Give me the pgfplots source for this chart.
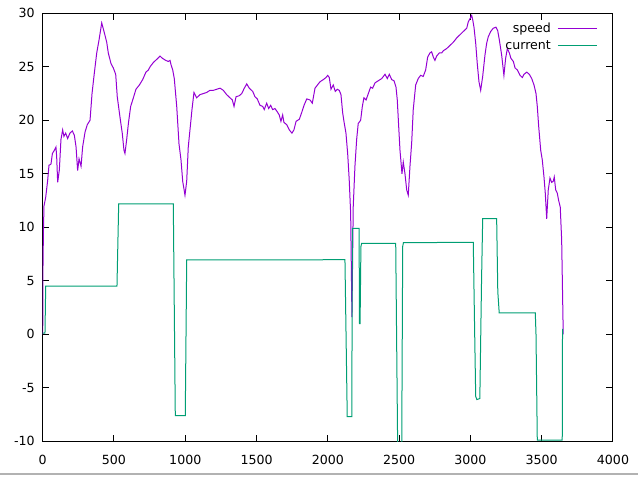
\documentclass[border=0pt]{standalone}
\usepackage{pgfplots}
\pgfplotsset{compat=1.18}
\usepackage{fontspec}
\setmainfont{DejaVu Sans}
\definecolor{gpviolet}{HTML}{9400D3}
\definecolor{gpgreen}{HTML}{009E73}
\begin{document}
\begin{tikzpicture}
\useasboundingbox (0,0) rectangle (638pt,477pt);
\draw[black!30, line width=2pt] (0,2.7pt) -- (638pt,2.7pt);
\begin{axis}[
  at={(42.7pt,35.7pt)}, anchor=south west,
  scale only axis, width=570.3pt, height=428pt,
  xmin=0, xmax=4000, ymin=-10, ymax=30,
  xtick={0,500,...,4000}, ytick={-10,-5,...,30},
  tick align=inside, major tick length=6.5pt,
  axis line style={line width=1pt},
  major tick style={line width=1pt, black},
  /pgf/number format/assume math mode=true,
  /pgf/number format/1000 sep={},
  tick label style={font=\fontsize{12.6}{14}\selectfont},
  xticklabel style={yshift=-10.2pt},
  yticklabel style={xshift=-4.5pt},
  legend style={draw=none, fill=none, at={(axis description cs:0.973,0.984)}, anchor=north east,
    inner sep=0pt, row sep=0.5pt, column sep=4.5pt,
    font=\fontsize{12.6}{14}\selectfont,
    nodes={inner sep=2pt, text height=10pt, text depth=2.2pt}},
  legend plot pos=right,
  legend cell align=right,
  legend image code/.code={\draw[#1] (0pt,0pt) -- (39pt,0pt);},
]
\addplot[gpviolet, line width=1pt] coordinates {
(0,0) (1,2.3) (2,6.3) (5,9.5) (9,12.0) (21,12.8) (35,14.4) (44,15.8) (58,15.9) (68,16.9) (82,17.2) (93,17.5) (98,16.6) (105,14.2) (117,15.4) (128,18.2) (140,19.1) (149,18.5) (161,18.8) (175,18.3) (191,18.8) (208,19.0) (222,18.6) (234,17.5) (245,15.3) (255,16.4) (269,15.7) (280,17.5) (297,18.9) (313,19.6) (332,20.0) (346,22.5) (362,24.4) (379,26.3) (395,27.5) (414,29.1) (430,28.3) (449,27.3) (460,26.3) (479,25.3) (495,24.9) (512,24.3) (523,22.2) (542,20.3) (558,18.8) (570,17.2) (577,16.9) (589,18.2) (601,19.7) (617,21.3) (636,22.1) (654,22.9) (678,23.3) (701,23.8) (724,24.5) (741,24.7) (753,25.0) (776,25.4) (800,25.7) (823,26.0) (839,25.8) (863,25.6) (881,25.5) (893,25.6) (900,25.2) (912,24.7) (923,23.9) (940,21.3) (956,17.8) (970,16.3) (982,14.3) (998,13.0) (1010,14.3) (1021,17.5) (1033,19.1) (1047,21.0) (1061,22.6) (1080,22.1) (1103,22.4) (1127,22.5) (1150,22.6) (1173,22.8) (1197,22.8) (1220,22.9) (1244,23.0) (1267,22.8) (1290,22.4) (1314,22.1) (1330,21.9) (1342,21.3) (1356,22.2) (1379,22.3) (1396,22.5) (1414,23.0) (1431,23.4) (1449,23.0) (1473,22.7) (1489,22.2) (1505,22.0) (1524,21.4) (1543,21.3) (1554,21.0) (1571,21.6) (1585,21.1) (1599,21.4) (1613,21.0) (1629,21.1) (1645,20.8) (1659,20.5) (1671,19.9) (1683,20.5) (1692,19.8) (1711,19.6) (1730,19.1) (1748,18.8) (1762,19.1) (1777,19.9) (1800,20.1) (1816,20.7) (1833,21.4) (1852,22.0) (1875,21.9) (1891,21.6) (1910,23.0) (1933,23.4) (1945,23.6) (1968,23.8) (1987,24.0) (1999,24.2) (2010,24.0) (2022,22.9) (2038,23.3) (2052,22.7) (2066,22.9) (2080,22.8) (2092,22.4) (2104,20.7) (2113,19.9) (2127,18.8) (2139,16.9) (2150,14.4) (2160,11.3) (2169,1.6) (2178,11.9) (2190,15.7) (2202,18.2) (2213,19.7) (2230,20.0) (2242,21.3) (2253,22.1) (2268,21.9) (2284,22.5) (2300,23.1) (2314,23.0) (2331,23.5) (2354,23.7) (2378,23.9) (2401,24.3) (2417,23.9) (2431,24.3) (2448,23.8) (2464,23.7) (2478,23.1) (2487,21.9) (2497,19.4) (2506,17.2) (2520,15.0) (2529,16.1) (2541,15.0) (2553,13.5) (2564,13.0) (2576,15.7) (2588,17.9) (2599,21.0) (2616,23.3) (2634,23.9) (2651,24.2) (2669,24.1) (2686,24.7) (2700,25.9) (2716,26.3) (2728,26.4) (2740,25.9) (2751,25.6) (2763,26.0) (2782,26.3) (2799,26.3) (2810,26.5) (2833,26.7) (2857,27.0) (2880,27.3) (2904,27.7) (2927,28.0) (2950,28.3) (2974,28.6) (2985,29.2) (2997,29.5) (3009,29.8) (3016,29.4) (3025,28.7) (3037,27.2) (3048,25.3) (3060,23.6) (3072,22.8) (3086,24.1) (3102,26.1) (3114,27.2) (3125,27.8) (3142,28.3) (3160,28.6) (3179,28.7) (3191,28.4) (3203,27.5) (3219,26.1) (3235,24.2) (3247,25.8) (3259,26.7) (3273,26.3) (3284,25.8) (3301,25.5) (3313,24.9) (3329,24.7) (3348,24.2) (3364,24.0) (3376,24.3) (3395,24.5) (3413,24.3) (3430,23.9) (3446,23.3) (3460,22.5) (3469,21.3) (3479,19.4) (3493,17.2) (3504,16.3) (3516,14.7) (3525,13.2) (3535,10.8) (3546,13.5) (3558,14.6) (3570,14.2) (3581,14.3) (3588,14.7) (3598,13.5) (3609,13.2) (3619,12.5) (3630,11.9) (3640,8.8) (3651,0)
};
\addlegendentry{speed}
\addplot[gpgreen, line width=1pt] coordinates {
(0,0.1) (16,0.1) (21,4.5) (521,4.5) (533,12.2) (916,12.2) (930,-7.6) (1000,-7.6) (1010,6.95) (2120,6.97) (2136,-7.7) (2168,-7.7) (2172,9.9) (2219,9.9) (2222,1.0) (2226,1.0) (2232,8.2) (2237,8.5) (2476,8.5) (2490,-11) (2518,-11) (2525,8.2) (2530,8.56) (3020,8.6) (3030,0) (3037,-5.8) (3045,-6.1) (3066,-6.0) (3078,5) (3086,10.8) (3184,10.8) (3192,4) (3202,2.0) (3455,2.0) (3460,0) (3469,-9.9) (3644,-9.9) (3646,0.5)
};
\addlegendentry{current}
\end{axis}
\end{tikzpicture}
\end{document}
